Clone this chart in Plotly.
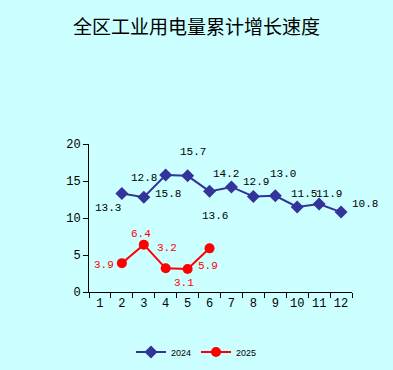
import plotly.graph_objects as go

months = [str(i) for i in range(1, 13)]
months_2024 = ["2", "3", "4", "5", "6", "7", "8", "9", "10", "11", "12"]
values_2024 = [13.3, 12.8, 15.8, 15.7, 13.6, 14.2, 12.9, 13.0, 11.5, 11.9, 10.8]
months_2025 = ["2", "3", "4", "5", "6"]
values_2025 = [3.9, 6.4, 3.2, 3.1, 5.9]
y_ticks = [0, 5, 10, 15, 20]

# label offsets (pixels, x right / y up) relative to each point
off_2024 = [(-14, -14), (0, 19), (2, -19), (5, 24), (5, -25), (-5, 13), (3, 15), (8, 22), (7, 13), (10, 10), (24, 8)]
off_2025 = [(-18, -2), (-3, 11), (1, 20), (-4, -14), (-2, -18)]

BG = "#CCFFFF"
BLUE = "#333399"
RED = "#FF0000"
LABEL_FONT = "Liberation Mono, DejaVu Sans Mono, monospace"

fig = go.Figure()
fig.add_trace(go.Scatter(
    x=months_2024, y=values_2024, name="2024", mode="lines+markers",
    line=dict(color=BLUE, width=2),
    marker=dict(symbol="diamond", size=10, color=BLUE),
))
fig.add_trace(go.Scatter(
    x=months_2025, y=values_2025, name="2025", mode="lines+markers",
    line=dict(color=RED, width=2),
    marker=dict(symbol="circle", size=10, color=RED),
))

annotations = []
for m, v, (dx, dy) in zip(months_2024, values_2024, off_2024):
    annotations.append(dict(x=months.index(m), y=v, xref="x", yref="y", text=f"{v:.1f}", showarrow=False,
                            xshift=dx, yshift=dy, font=dict(family=LABEL_FONT, size=11, color="#000000")))
for m, v, (dx, dy) in zip(months_2025, values_2025, off_2025):
    annotations.append(dict(x=months.index(m), y=v, xref="x", yref="y", text=f"{v:.1f}", showarrow=False,
                            xshift=dx, yshift=dy, font=dict(family=LABEL_FONT, size=11, color=RED)))

fig.update_layout(
    width=393, height=370,
    paper_bgcolor=BG, plot_bgcolor=BG,
    margin=dict(l=89, r=41, t=144, b=78, autoexpand=False),
    title=dict(text="全区工业用电量累计增长速度", x=0.5, xref="container", xanchor="center",
               y=1 - 27 / 370, yref="container", yanchor="middle",
               font=dict(family="Noto Sans CJK SC", size=19, color="#000000")),
    xaxis=dict(type="category", categoryorder="array", categoryarray=months,
               range=[-0.5, 11.5], tickson="boundaries", ticks="outside", ticklen=5,
               tickcolor="#000000", showline=True, linecolor="#000000", linewidth=1,
               showgrid=False, zeroline=False, tickangle=0,
               tickfont=dict(family=LABEL_FONT, size=12, color="#000000")),
    yaxis=dict(range=[0, 20], tickvals=y_ticks, ticks="outside", ticklen=5,
               tickcolor="#000000", showline=True, linecolor="#000000", linewidth=1,
               showgrid=False, zeroline=False,
               tickfont=dict(family=LABEL_FONT, size=12, color="#000000")),
    legend=dict(orientation="h", x=0.5, xref="container", xanchor="center",
                y=(370 - 352) / 370, yref="container", yanchor="middle",
                font=dict(family="Arial, Liberation Sans", size=9, color="#000000"),
                bgcolor="rgba(0,0,0,0)"),
    annotations=annotations,
    showlegend=True,
)

fig.write_html("out.html", config={"displayModeBar": False},
               post_script="document.body.style.margin='0';document.body.style.background='#CCFFFF';")
